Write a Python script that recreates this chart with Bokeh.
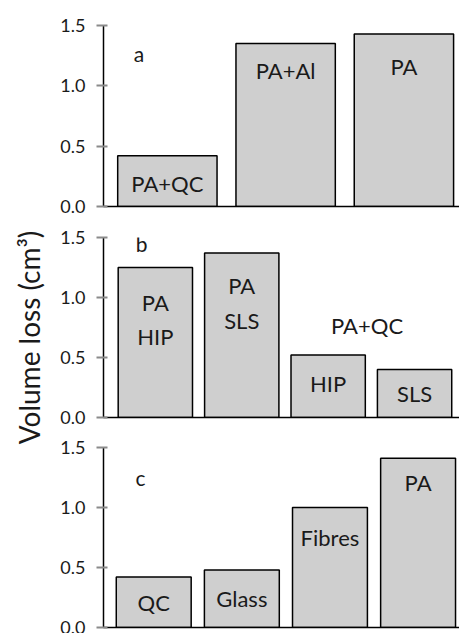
from math import pi

from bokeh.core.properties import value
from bokeh.embed import file_html
from bokeh.layouts import column, row
from bokeh.models import ColumnDataSource, Label, PrintfTickFormatter, Range1d
from bokeh.plotting import figure
from bokeh.resources import INLINE

# ---- data -------------------------------------------------------------
a_labels = ["PA+QC", "PA+Al", "PA"]
a_values = [0.42, 1.35, 1.43]

b_labels = ["PA\nHIP", "PA\nSLS", "HIP", "SLS"]
b_values = [1.25, 1.37, 0.52, 0.40]
b_group_label = "PA+QC"

c_labels = ["QC", "Glass", "Fibres", "PA"]
c_values = [0.42, 0.48, 1.00, 1.41]

y_ticks = [0.0, 0.5, 1.0, 1.5]
y_title = "Volume loss (cm\u00b3)"

# ---- style ------------------------------------------------------------
FONT = "Lato"
TEXT = "#1a1a1a"
BAR_FILL = "#cfcfcf"


def panel(height, border_top, border_bottom, border_left, x_range):
    p = figure(width=414, height=height, output_backend="svg",
               toolbar_location=None, tools="",
               x_range=Range1d(*x_range), y_range=Range1d(0, 1.5),
               min_border_left=border_left, min_border_right=0,
               min_border_top=border_top, min_border_bottom=border_bottom)
    p.outline_line_color = None
    p.grid.visible = False
    p.background_fill_color = "white"
    p.border_fill_color = "white"

    yax = p.yaxis[0]
    yax.ticker = y_ticks
    yax.formatter = PrintfTickFormatter(format="%.1f")
    yax.axis_line_color = "black"
    yax.axis_line_width = 1.5
    yax.major_tick_line_color = "#8a8a8a"
    yax.major_tick_line_width = 2
    yax.major_tick_out = 7
    yax.major_tick_in = 4
    yax.minor_tick_line_color = None
    yax.minor_tick_out = 0
    yax.major_label_standoff = 11
    yax.major_label_text_font = FONT
    yax.major_label_text_font_size = "18px"
    yax.major_label_text_color = TEXT

    xax = p.xaxis[0]
    xax.ticker = []
    xax.axis_line_color = "black"
    xax.axis_line_width = 1.5
    xax.major_tick_out = 0
    xax.major_tick_in = 0
    xax.minor_tick_out = 0
    xax.minor_tick_in = 0
    xax.major_label_standoff = 0
    xax.major_label_text_font_size = "0px"
    return p


def bars(p, values, width):
    src = ColumnDataSource(dict(x=list(range(len(values))), top=values))
    p.vbar(x="x", top="top", bottom=0, width=width, source=src,
           fill_color=BAR_FILL, line_color="black", line_width=1.5)


def bar_text(p, xs, ys, texts, offsets, line_height=1.2):
    src = ColumnDataSource(dict(x=xs, y=ys, text=texts, dy=offsets))
    p.text(x="x", y="y", text="text", y_offset="dy", source=src,
           text_font=value(FONT), text_font_size="22px", text_color=TEXT,
           text_align="center", text_baseline="middle",
           text_line_height=line_height)


def letter(p, x, y, s):
    p.add_layout(Label(x=x, y=y, text=s, text_font=FONT,
                       text_font_size="21px", text_color=TEXT,
                       text_align="center", text_baseline="middle"))


# ---- panel a ----------------------------------------------------------
pa = panel(221, 25, 15, 55, (-0.54, 2.47))
bars(pa, a_values, 0.84)
a_y = [a_values[0] / 2, a_values[1], a_values[2]]
bar_text(pa, list(range(3)), a_y, a_labels, [2, 27, 33])
letter(pa, -0.24, 1.27, "a")

# ---- panel b ----------------------------------------------------------
pb = panel(210, 16, 14, 57, (-0.6, 3.52))
bars(pb, b_values, 0.86)
b_y = [b_values[0], b_values[1], b_values[2] / 2, b_values[3] / 2]
bar_text(pb, list(range(4)), b_y, b_labels, [52, 50, -3, 0], line_height=1.28)
bar_text(pb, [2.45], [max(b_values[2:])], [b_group_label], [-30])
letter(pb, -0.16, 1.45, "b")

# ---- panel c ----------------------------------------------------------
pc = panel(202, 16, 6, 58, (-0.57, 3.47))
bars(pc, c_values, 0.85)
c_y = [c_values[0] / 2, c_values[1] / 2, c_values[2], c_values[3]]
bar_text(pc, list(range(4)), c_y, c_labels, [0, 0, 30, 24])
letter(pc, -0.15, 1.25, "c")

# ---- shared y title ---------------------------------------------------
title_fig = figure(width=45, height=633, output_backend="svg",
                   toolbar_location=None, tools="",
                   x_range=Range1d(0, 45), y_range=Range1d(0, 633),
                   x_axis_type=None, y_axis_type=None,
                   min_border=0)
title_fig.outline_line_color = None
title_fig.grid.visible = False
title_fig.add_layout(Label(x=28, y=296, text=y_title, angle=pi / 2,
                           text_font=FONT, text_font_size="28px",
                           text_color=TEXT, text_align="center",
                           text_baseline="middle"))

layout = row(title_fig, column(pa, pb, pc))

with open("out.html", "w") as f:
    f.write(file_html(layout, INLINE))
